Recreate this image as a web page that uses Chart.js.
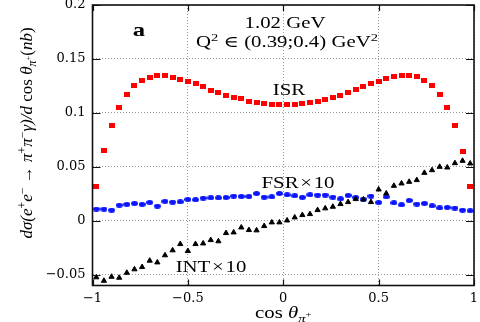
<!DOCTYPE html>
<html>
<head>
<meta charset="utf-8">
<script src="https://cdn.jsdelivr.net/npm/chart.js@4/dist/chart.umd.min.js"></script>
<style>
  html, body { margin: 0; padding: 0; background: #fff; }
  canvas { display: block; }
</style>
</head>
<body>
<canvas id="chart" width="480" height="322"></canvas>
<script>
// bin centres in cos(theta_pi+)
const cosTheta = [-0.98, -0.94, -0.90, -0.86, -0.82, -0.78, -0.74, -0.70, -0.66, -0.62,
  -0.58, -0.54, -0.50, -0.46, -0.42, -0.38, -0.34, -0.30, -0.26, -0.22,
  -0.18, -0.14, -0.10, -0.06, -0.02, 0.02, 0.06, 0.10, 0.14, 0.18,
  0.22, 0.26, 0.30, 0.34, 0.38, 0.42, 0.46, 0.50, 0.54, 0.58,
  0.62, 0.66, 0.70, 0.74, 0.78, 0.82, 0.86, 0.90, 0.94, 0.98];

// ISR (nb)
const isr = [0.032, 0.065, 0.088, 0.105, 0.117, 0.125, 0.130, 0.133, 0.135, 0.135,
  0.133, 0.131, 0.129, 0.127, 0.124, 0.121, 0.119, 0.116, 0.1145, 0.113,
  0.111, 0.110, 0.109, 0.108, 0.108, 0.108, 0.108, 0.1083, 0.1093, 0.1108,
  0.1124, 0.1143, 0.1164, 0.1185, 0.1213, 0.1241, 0.1272, 0.1294, 0.1315, 0.1333,
  0.1343, 0.1343, 0.1333, 0.130, 0.125, 0.117, 0.105, 0.088, 0.0645, 0.032];

// FSR x 10
const fsr10 = [0.0108, 0.0108, 0.0099, 0.0145, 0.0152, 0.0161, 0.0152, 0.0170, 0.0136, 0.0180,
  0.0173, 0.0176, 0.0198, 0.0195, 0.0210, 0.0213, 0.0213, 0.0216, 0.0229, 0.0226,
  0.0226, 0.0253, 0.0219, 0.0222, 0.0253, 0.0241, 0.0232, 0.0217, 0.0241, 0.0238,
  0.0238, 0.0219, 0.0204, 0.0235, 0.0217, 0.0201, 0.0229, 0.0170, 0.0222, 0.0167,
  0.0148, 0.0189, 0.0155, 0.0161, 0.0139, 0.0120, 0.0124, 0.0118, 0.0099, 0.0093];

// INT x 10
const int10 = [-0.0524, -0.0556, -0.0519, -0.0528, -0.0482, -0.0450, -0.0429, -0.0370, -0.0386, -0.0320,
  -0.0274, -0.0216, -0.0280, -0.0216, -0.0210, -0.0179, -0.0190, -0.0114, -0.0108, -0.0062,
  -0.0086, -0.0089, -0.0049, -0.0015, -0.0015, 0.0003, 0.0031, 0.0053, 0.0062, 0.0099,
  0.0115, 0.0130, 0.0155, 0.0173, 0.0201, 0.0198, 0.0173, 0.0290, 0.0253, 0.0324,
  0.0346, 0.0361, 0.0377, 0.0444, 0.0469, 0.0500, 0.0494, 0.0534, 0.0556, 0.0531];

const yTicks = [-0.05, 0, 0.05, 0.1, 0.15, 0.2];

const SERIF = '"Liberation Serif", "DejaVu Serif", serif';

function toPoints(vals) {
  return cosTheta.map((c, i) => ({ x: c, y: vals[i] }));
}

// minus sign like in the paper
function fmt(v) {
  return String(v).replace('-', '\u2212');
}

// small marker images (the original figure is a bit stretched sideways)
function marker(w, h, color, shape) {
  const c = document.createElement('canvas');
  c.width = w; c.height = h;
  const g = c.getContext('2d');
  g.fillStyle = color;
  if (shape === 'ellipse') {
    g.beginPath();
    g.ellipse(w / 2, h / 2, w / 2, h / 2, 0, 0, Math.PI * 2);
    g.fill();
  } else {
    g.fillRect(0, 0, w, h);
  }
  return c;
}
const redSquare = marker(6, 5, '#ff0000', 'rect');
const blueDot = marker(7, 5, '#0a14ff', 'ellipse');

// text with super/subscripts, s: 'sup' | 'sub' | 'subsup'
function segFont(g, size) {
  let k = 1;
  if (g.s === 'sup' || g.s === 'sub') k = 0.7;
  if (g.s === 'subsup') k = 0.5;
  return (g.it ? 'italic ' : '') + (g.b ? 'bold ' : '') + (size * k) + 'px ' + SERIF;
}
function segShift(g, size) {
  if (g.s === 'sup') return -size * 0.38;
  if (g.s === 'sub') return size * 0.22;
  if (g.s === 'subsup') return -size * 0.05;
  return 0;
}
function drawRich(ctx, segs, size, sx) {
  ctx.save();
  ctx.scale(sx, 1);
  let w = 0;
  segs.forEach(g => { ctx.font = segFont(g, size); w += ctx.measureText(g.t).width; });
  let cx = -w / 2;
  ctx.textAlign = 'left';
  ctx.textBaseline = 'alphabetic';
  ctx.fillStyle = '#000';
  segs.forEach(g => {
    ctx.font = segFont(g, size);
    ctx.fillText(g.t, cx, segShift(g, size));
    cx += ctx.measureText(g.t).width;
  });
  ctx.restore();
}

const yTitle = [
  { t: 'd\u03c3(e', it: true }, { t: '+', s: 'sup' }, { t: 'e', it: true }, { t: '\u2212', s: 'sup' },
  { t: ' \u2192 \u03c0', it: true }, { t: '+', s: 'sup' }, { t: '\u03c0', it: true }, { t: '\u2212', s: 'sup' },
  { t: '\u03b3)/', it: true }, { t: 'd', it: true }, { t: ' cos ' }, { t: '\u03b8', it: true },
  { t: '\u03c0', it: true, s: 'sub' }, { t: '+', s: 'subsup' }, { t: '(', }, { t: 'nb', it: true }, { t: ')' }
];
const xTitle = [
  { t: 'cos ' }, { t: '\u03b8', it: true }, { t: '\u03c0', it: true, s: 'sub' }, { t: '+', s: 'subsup' }
];

const labels = [
  { x: 139, y: 36, size: 19, segs: [{ t: 'a', b: true }] },
  { x: 285, y: 28, size: 16, segs: [{ t: '1.02 GeV' }] },
  { x: 287, y: 47, size: 16, segs: [{ t: 'Q' }, { t: '2', s: 'sup' }, { t: ' \u2208 (0.39;0.4) GeV' }, { t: '2', s: 'sup' }] },
  { x: 289, y: 95, size: 16, segs: [{ t: 'ISR' }] },
  { x: 298, y: 188, size: 16, segs: [{ t: 'FSR\u200a\u00d7\u200a10' }] },
  { x: 211, y: 272, size: 16, segs: [{ t: 'INT\u200a\u00d7\u200a10' }] }
];

// frame, inward tick marks and text
const framePlugin = {
  id: 'frame',
  afterDraw(chart) {
    const { ctx, chartArea: a, scales: { x, y } } = chart;
    ctx.save();
    ctx.strokeStyle = '#111';
    ctx.lineWidth = 1.2;
    ctx.beginPath();
    x.ticks.forEach(t => {
      const px = Math.round(x.getPixelForValue(t.value)) + 0.5;
      ctx.moveTo(px, a.bottom); ctx.lineTo(px, a.bottom - 6);
      ctx.moveTo(px, a.top); ctx.lineTo(px, a.top + 6);
    });
    y.ticks.forEach(t => {
      const py = Math.round(y.getPixelForValue(t.value)) + 0.5;
      ctx.moveTo(a.left, py); ctx.lineTo(a.left + 8, py);
      ctx.moveTo(a.right, py); ctx.lineTo(a.right - 8, py);
    });
    ctx.stroke();
    ctx.lineWidth = 1.6;
    ctx.strokeRect(a.left, a.top, a.right - a.left, a.bottom - a.top);

    labels.forEach(l => {
      ctx.save();
      ctx.translate(l.x, l.y);
      drawRich(ctx, l.segs, l.size, 1.3);
      ctx.restore();
    });

    ctx.save();
    ctx.translate((a.left + a.right) / 2, 318);
    drawRich(ctx, xTitle, 16, 1.3);
    ctx.restore();

    ctx.save();
    ctx.translate(32, 133);
    ctx.rotate(-Math.PI / 2);
    drawRich(ctx, yTitle, 17, 1);
    ctx.restore();
    ctx.restore();
  }
};

const tickFont = { family: '"DejaVu Serif", serif', size: 13 };

new Chart(document.getElementById('chart'), {
  type: 'scatter',
  data: {
    datasets: [
      {
        label: 'INT x 10', data: toPoints(int10), order: 0,
        pointStyle: 'triangle', radius: 3, backgroundColor: '#000', borderColor: '#000', borderWidth: 1
      },
      {
        label: 'FSR x 10', data: toPoints(fsr10), order: 1,
        pointStyle: blueDot, radius: 3
      },
      {
        label: 'ISR', data: toPoints(isr), order: 2,
        pointStyle: redSquare, radius: 3
      }
    ]
  },
  options: {
    responsive: false,
    animation: false,
    layout: { padding: { left: 0, top: 5, right: 6, bottom: 0 } },
    plugins: { legend: { display: false }, tooltip: { enabled: false } },
    scales: {
      x: {
        type: 'linear', min: -1, max: 1,
        ticks: { stepSize: 0.5, padding: 5, color: '#000', font: tickFont, callback: v => fmt(v), maxRotation: 0 },
        grid: { color: '#999', lineWidth: 1, drawTicks: false },
        border: { display: false, dash: [1, 2] },
        afterFit: s => { s.height = 36.5; s.paddingLeft = 0; s.paddingRight = 0; }
      },
      y: {
        type: 'linear', min: -0.06, max: 0.2,
        afterBuildTicks: s => { s.ticks = yTicks.map(v => ({ value: v })); },
        ticks: { padding: 7, color: '#000', font: tickFont, callback: v => fmt(v) },
        grid: { color: '#999', lineWidth: 1, drawTicks: false },
        border: { display: false, dash: [1, 2] },
        afterFit: s => { s.width = 92.5; s.paddingTop = 0; s.paddingBottom = 0; }
      }
    }
  },
  plugins: [framePlugin]
});
</script>
</body>
</html>
